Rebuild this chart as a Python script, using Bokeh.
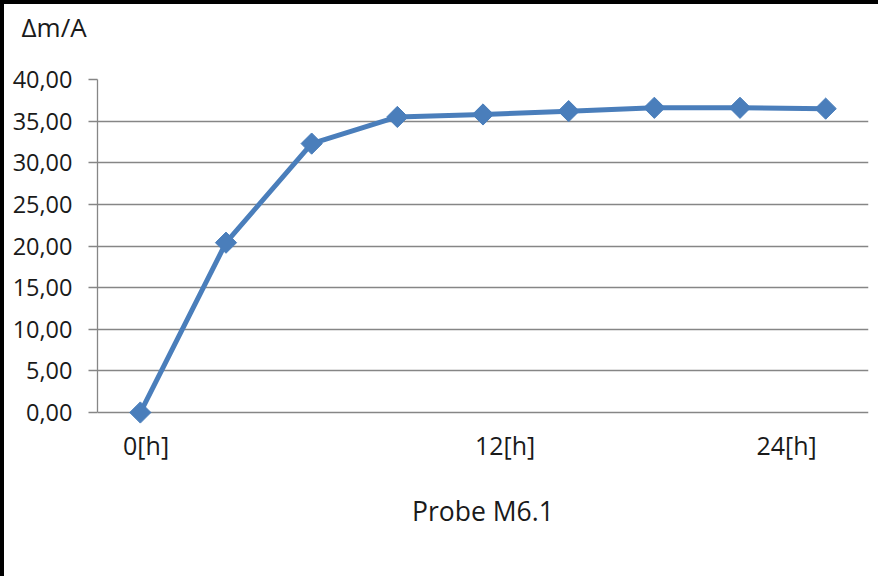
from bokeh.plotting import figure
from bokeh.models import FixedTicker, Range1d, Title
from bokeh.embed import file_html
from bokeh.resources import INLINE

# data
measurement = [1, 2, 3, 4, 5, 6, 7, 8, 9]
dm_a = [0.0, 20.4, 32.3, 35.5, 35.8, 36.2, 36.6, 36.6, 36.5]
x_tick_pos = [1.067, 5.257, 8.543]
x_tick_labels = ["0[h]", "12[h]", "24[h]"]
y_ticks = [0, 5, 10, 15, 20, 25, 30, 35, 40]
y_tick_labels = ["0,00", "5,00", "10,00", "15,00", "20,00", "25,00", "30,00", "35,00", "40,00"]

FONT = "Open Sans"
BLUE = "#4A7EBB"
GRAY = "#868686"
TEXT = "#1a1a1a"

# a little room below 0 so the first marker is not clipped
p = figure(width=878, height=576, output_backend="svg", toolbar_location=None,
           x_range=Range1d(0.5, 9.5), y_range=Range1d(-1.44, 40),
           min_border_left=93, min_border_top=75, min_border_right=14, min_border_bottom=156)
p.styles = {"border-left": "4px solid black", "border-top": "4px solid black"}
p.outline_line_color = None
p.background_fill_color = "white"
p.border_fill_color = "white"

# spacer between frame and the top-left title
p.add_layout(Title(text=" ", text_font_size="10px", standoff=22), "above")

# y title at top-left
p.title.text = "Δm/A"
p.title.align = "left"
p.title.offset = -76
p.title.standoff = 0
p.title.text_font = FONT
p.title.text_font_size = "26px"
p.title.text_font_style = "normal"
p.title.text_color = TEXT

# grid (the 0 line doubles as the category axis line)
p.xgrid.grid_line_color = None
p.ygrid.grid_line_color = GRAY
p.ygrid.grid_line_width = 1.3
p.ygrid.ticker = FixedTicker(ticks=y_ticks)

# y axis
p.yaxis.ticker = FixedTicker(ticks=y_ticks)
p.yaxis.bounds = (y_ticks[0], y_ticks[-1])
p.yaxis.major_label_overrides = {t: l for t, l in zip(y_ticks, y_tick_labels)}
p.yaxis.axis_line_color = GRAY
p.yaxis.axis_line_width = 1.3
p.yaxis.major_tick_line_color = GRAY
p.yaxis.major_tick_line_width = 1.3
p.yaxis.major_tick_out = 9
p.yaxis.major_tick_in = 0
p.yaxis.minor_tick_line_color = None
p.yaxis.major_label_text_font = FONT
p.yaxis.major_label_text_font_size = "23.5px"
p.yaxis.major_label_text_color = TEXT
p.yaxis.major_label_standoff = 16

# x axis
p.xaxis.ticker = FixedTicker(ticks=x_tick_pos)
p.xaxis.major_label_overrides = {t: l for t, l in zip(x_tick_pos, x_tick_labels)}
p.xaxis.axis_line_color = None
p.xaxis.major_tick_line_color = None
p.xaxis.minor_tick_line_color = None
p.xaxis.major_label_text_font = FONT
p.xaxis.major_label_text_font_size = "25px"
p.xaxis.major_label_text_color = TEXT
p.xaxis.major_label_standoff = -3
p.xaxis.axis_label = "Probe M6.1"
p.xaxis.axis_label_text_font = FONT
p.xaxis.axis_label_text_font_size = "26.5px"
p.xaxis.axis_label_text_font_style = "normal"
p.xaxis.axis_label_text_color = TEXT
p.xaxis.axis_label_standoff = 28

# series
p.line(measurement, dm_a, line_color=BLUE, line_width=5)
p.scatter(measurement, dm_a, marker="square", angle=0.785398, size=15,
          fill_color=BLUE, line_color=BLUE)

open("out.html", "w").write(file_html(p, INLINE))
